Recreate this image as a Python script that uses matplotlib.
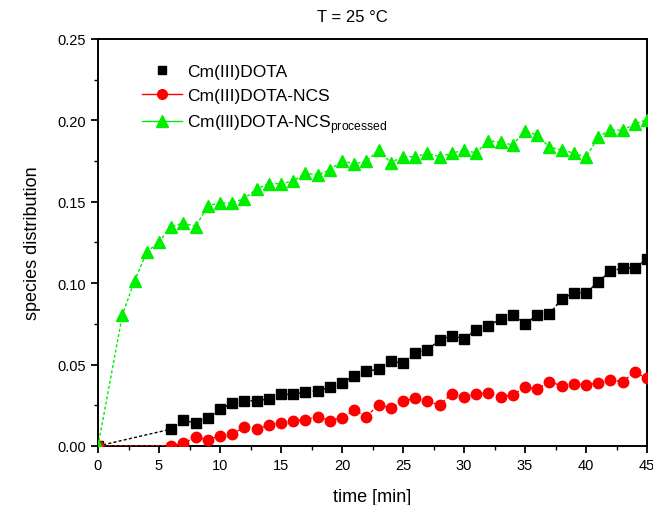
import matplotlib
matplotlib.use("Agg")
import matplotlib.pyplot as plt
from matplotlib.lines import Line2D
from matplotlib.ticker import MultipleLocator, FormatStrFormatter

plt.rcParams['font.family'] = ['Liberation Sans', 'DejaVu Sans']

# time points [min]
t_dota = [0] + list(range(6, 46))
t_ncs = [0] + list(range(6, 46))
t_proc = [0] + list(range(2, 46))

dota = [0.0,
        0.0104, 0.0160, 0.0139, 0.0170, 0.0227, 0.0262, 0.0278, 0.0278, 0.0289, 0.0317,
        0.0317, 0.0330, 0.0340, 0.0360, 0.0387, 0.0432, 0.0458, 0.0473, 0.0520, 0.0509,
        0.0571, 0.0592, 0.0649, 0.0678, 0.0657, 0.0713, 0.0739, 0.0780, 0.0805, 0.0749,
        0.0805, 0.0811, 0.0903, 0.0940, 0.0940, 0.1009, 0.1073, 0.1093, 0.1093, 0.1149]

ncs = [0.0,
       0.0002, 0.0018, 0.0053, 0.0039, 0.0063, 0.0074, 0.0115, 0.0104, 0.0129, 0.0143,
       0.0156, 0.0161, 0.0181, 0.0156, 0.0174, 0.0219, 0.0181, 0.0253, 0.0235, 0.0274,
       0.0294, 0.0274, 0.0252, 0.0321, 0.0301, 0.0319, 0.0326, 0.0299, 0.0315, 0.0360,
       0.0350, 0.0395, 0.0370, 0.0381, 0.0377, 0.0385, 0.0407, 0.0395, 0.0453, 0.0416]

proc = [0.0,
        0.0805, 0.1016, 0.1190, 0.1255, 0.1347, 0.1370, 0.1347, 0.1476, 0.1493, 0.1493,
        0.1520, 0.1580, 0.1610, 0.1612, 0.1626, 0.1677, 0.1665, 0.1695, 0.1753, 0.1732,
        0.1749, 0.1818, 0.1740, 0.1777, 0.1777, 0.1798, 0.1777, 0.1798, 0.1818, 0.1800,
        0.1876, 0.1865, 0.1850, 0.1937, 0.1910, 0.1835, 0.1818, 0.1800, 0.1773, 0.1900,
        0.1940, 0.1940, 0.1978, 0.2005]

labels = ['Cm(III)DOTA', 'Cm(III)DOTA-NCS',
          'Cm(III)DOTA-NCS$_{\\mathregular{processed}}$']

fig = plt.figure(figsize=(6.53, 5.06), dpi=100)
ax = fig.add_axes([98 / 653, 1 - 447 / 506, (647 - 98) / 653, (447 - 40) / 506])

dash = (0, (2.2, 1.6))
ax.plot(t_dota, dota, color='black', lw=1.0, linestyle=dash,
        marker='s', ms=7, mec='black', mfc='black', zorder=3)
ax.plot(t_ncs, ncs, color='red', lw=1.0, linestyle=dash,
        marker='o', ms=7.5, mec='red', mfc='red', zorder=3)
ax.plot(t_proc, proc, color='#00ee00', lw=1.0, linestyle=dash,
        marker='^', ms=8.5, mec='#00ee00', mfc='#00ee00', zorder=3)

ax.set_xlim(0, 45)
ax.set_ylim(0, 0.25)
ax.xaxis.set_major_locator(MultipleLocator(5))
ax.xaxis.set_minor_locator(MultipleLocator(2.5))
ax.yaxis.set_major_locator(MultipleLocator(0.05))
ax.yaxis.set_minor_locator(MultipleLocator(0.025))
ax.yaxis.set_major_formatter(FormatStrFormatter('%.2f'))
ax.tick_params(which='major', direction='out', length=5, width=1.3, labelsize=10.5)
ax.tick_params(which='minor', direction='out', length=3, width=1.0)
for s in ax.spines.values():
    s.set_linewidth(1.4)

ax.set_xlabel('time [min]', fontsize=13, labelpad=12)
ax.set_ylabel('species distribution', fontsize=13, labelpad=12)
fig.text(352 / 653, 1 - 18 / 506, 'T = 25 °C', ha='center', va='center', fontsize=12)

handles = [
    Line2D([], [], color='black', linestyle='none', marker='s', ms=6),
    Line2D([], [], color='red', lw=1.0, marker='o', ms=7),
    Line2D([], [], color='#00ee00', lw=1.0, marker='^', ms=8),
]
ax.legend(handles, labels, loc='upper left', bbox_to_anchor=(0.068, 0.955),
          frameon=False, fontsize=12.5, handlelength=2.3, handletextpad=0.3,
          labelspacing=0.5, borderaxespad=0)

fig.savefig('out.png', dpi=100)
